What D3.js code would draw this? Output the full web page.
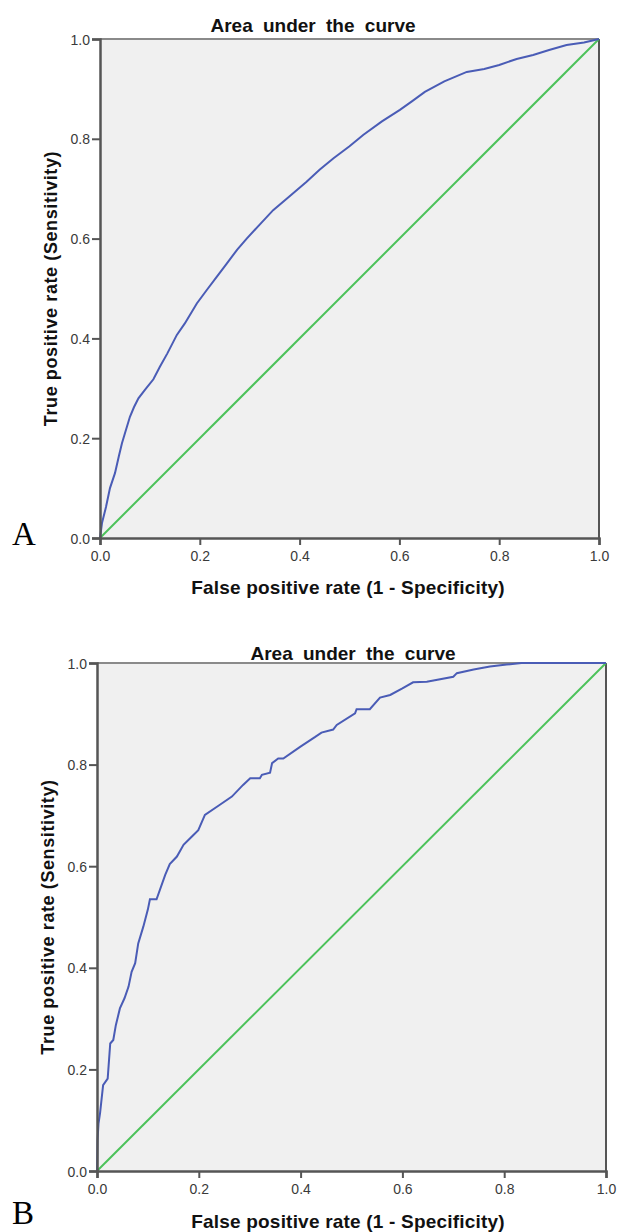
<!DOCTYPE html>
<html>
<head>
<meta charset="utf-8">
<script src="https://cdn.jsdelivr.net/npm/d3@7"></script>
<style>
  body { margin: 0; background: #fff; }
  svg { display: block; }
  .tick text { font-family: 'Liberation Sans', Arial, sans-serif; font-size: 14px; fill: #3a3a3a; }
  .lbl { font-family: 'Liberation Sans', Arial, sans-serif; font-weight: bold; fill: #111; }
</style>
</head>
<body>
<div id="chart"></div>
<script>
// values
const ticks = [0, 0.2, 0.4, 0.6, 0.8, 1.0]

const fprA = [0, 0.004, 0.012, 0.02, 0.03, 0.038, 0.044, 0.05, 0.06, 0.068, 0.077, 0.09, 0.107, 0.12, 0.135,
  0.154, 0.17, 0.194, 0.214, 0.235, 0.254, 0.275, 0.294, 0.32, 0.347, 0.38, 0.414, 0.44, 0.468, 0.5,
  0.528, 0.565, 0.601, 0.625, 0.651, 0.69, 0.735, 0.77, 0.8, 0.835, 0.868, 0.9, 0.935, 0.97, 1]
const tprA = [0, 0.03, 0.062, 0.1, 0.13, 0.165, 0.19, 0.21, 0.243, 0.262, 0.28, 0.297, 0.318, 0.343, 0.37,
  0.407, 0.43, 0.47, 0.497, 0.525, 0.55, 0.578, 0.6, 0.628, 0.657, 0.685, 0.714, 0.738, 0.761, 0.785,
  0.808, 0.835, 0.858, 0.875, 0.894, 0.915, 0.934, 0.94, 0.948, 0.96, 0.968, 0.978, 0.988, 0.993, 1]

const fprB = [0, 0.001, 0.003, 0.006, 0.012, 0.021, 0.026, 0.032, 0.037, 0.045, 0.054, 0.062, 0.068, 0.075,
  0.081, 0.091, 0.1, 0.104, 0.117, 0.134, 0.143, 0.157, 0.17, 0.186, 0.199, 0.212, 0.24, 0.265, 0.287,
  0.301, 0.32, 0.324, 0.34, 0.344, 0.356, 0.366, 0.399, 0.428, 0.441, 0.464, 0.471, 0.507, 0.51, 0.536,
  0.556, 0.576, 0.6, 0.621, 0.648, 0.7, 0.707, 0.74, 0.772, 0.805, 0.834, 1]
const tprB = [0, 0.06, 0.094, 0.114, 0.169, 0.182, 0.251, 0.258, 0.287, 0.32, 0.34, 0.363, 0.392, 0.409,
  0.448, 0.481, 0.515, 0.535, 0.535, 0.583, 0.604, 0.619, 0.642, 0.658, 0.671, 0.701, 0.72, 0.737, 0.76,
  0.773, 0.773, 0.78, 0.784, 0.803, 0.812, 0.812, 0.835, 0.854, 0.863, 0.869, 0.878, 0.901, 0.909, 0.909,
  0.932, 0.937, 0.95, 0.962, 0.963, 0.973, 0.98, 0.987, 0.993, 0.997, 1, 1]

const title = 'Area under the curve'
const xTitle = 'False positive rate (1 - Specificity)'
const yTitle = 'True positive rate (Sensitivity)'

const width = 617
const height = 1232

const svg = d3
  .select('#chart')
  .append('svg')
  .attr('width', width)
  .attr('height', height)

const panels = [
  { letter: 'A', fpr: fprA, tpr: tprA, left: 100, right: 599, top: 39, bottom: 538,
    titleX: 313, titleY: 32, xLabelY: 594, yLabelX: 57, letterY: 545 },
  { letter: 'B', fpr: fprB, tpr: tprB, left: 97, right: 606, top: 663, bottom: 1171,
    titleX: 353, titleY: 660, xLabelY: 1228, yLabelX: 54, letterY: 1224 }
]

panels.forEach(drawPanel)

function drawPanel(p) {
  const x = d3.scaleLinear().domain([0, 1]).range([p.left, p.right])
  const y = d3.scaleLinear().domain([0, 1]).range([p.bottom, p.top])
  const g = svg.append('g')

  g.append('rect')
    .attr('x', p.left)
    .attr('y', p.top)
    .attr('width', p.right - p.left)
    .attr('height', p.bottom - p.top)
    .attr('fill', '#f0f0f0')

  // frame top and right
  g.append('line')
    .attr('x1', p.left).attr('x2', p.right)
    .attr('y1', p.top).attr('y2', p.top)
    .attr('stroke', '#8a8a8a').attr('stroke-width', 2)
  g.append('line')
    .attr('x1', p.right).attr('x2', p.right)
    .attr('y1', p.top).attr('y2', p.bottom)
    .attr('stroke', '#555').attr('stroke-width', 2)

  // reference diagonal
  g.append('line')
    .attr('x1', x(0)).attr('y1', y(0))
    .attr('x2', x(1)).attr('y2', y(1))
    .attr('stroke', '#4cc25a')
    .attr('stroke-width', 2)

  const pts = p.fpr.map((d, i) => [d, p.tpr[i]])
  const line = d3.line().x(d => x(d[0])).y(d => y(d[1]))
  g.append('path')
    .datum(pts)
    .attr('d', line)
    .attr('fill', 'none')
    .attr('stroke', '#4a5cb6')
    .attr('stroke-width', 2)

  const xAxis = g.append('g')
    .attr('transform', `translate(0,${p.bottom})`)
    .call(d3.axisBottom(x).tickValues(ticks).tickFormat(d3.format('.1f')).tickSize(7).tickPadding(6))
  const yAxis = g.append('g')
    .attr('transform', `translate(${p.left},0)`)
    .call(d3.axisLeft(y).tickValues(ticks).tickFormat(d3.format('.1f')).tickSize(8).tickPadding(2))

  ;[xAxis, yAxis].forEach(a => {
    a.select('.domain').attr('stroke', '#555').attr('stroke-width', 2.5)
    a.selectAll('.tick line').attr('stroke', '#555').attr('stroke-width', 2)
  })
  yAxis.selectAll('.tick text').attr('dy', '0.36em')

  g.append('text')
    .attr('class', 'lbl')
    .attr('x', p.titleX)
    .attr('y', p.titleY)
    .attr('text-anchor', 'middle')
    .style('font-size', '19px')
    .style('word-spacing', '5px')
    .text(title)

  g.append('text')
    .attr('class', 'lbl')
    .attr('x', 348)
    .attr('y', p.xLabelY)
    .attr('text-anchor', 'middle')
    .style('font-size', '19px')
    .style('letter-spacing', '0.2px')
    .text(xTitle)

  g.append('text')
    .attr('class', 'lbl')
    .attr('transform', `translate(${p.yLabelX},${(p.top + p.bottom) / 2}) rotate(-90)`)
    .attr('text-anchor', 'middle')
    .style('font-size', '18px')
    .style('letter-spacing', '0.6px')
    .text(yTitle)

  g.append('text')
    .attr('x', 12)
    .attr('y', p.letterY)
    .style('font-family', "'Liberation Serif', 'Times New Roman', serif")
    .style('font-size', '33px')
    .attr('fill', '#000')
    .text(p.letter)
}
</script>
</body>
</html>
